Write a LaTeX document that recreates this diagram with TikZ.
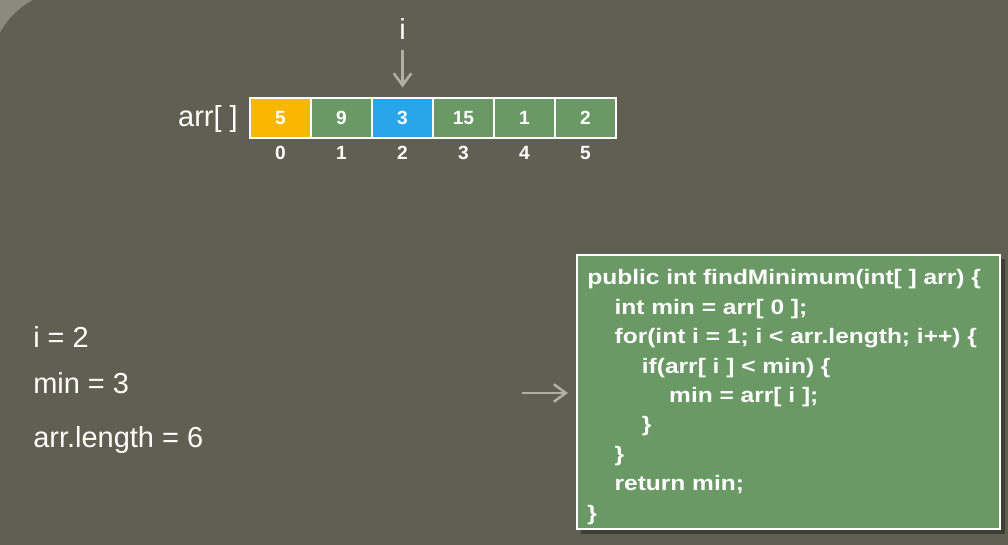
\documentclass[tikz,border=0pt]{standalone}
\usepackage{fontspec}
\setmainfont{Liberation Sans}
\usetikzlibrary{arrows.meta,positioning}
\definecolor{slidebg}{RGB}{95,96,81}
\definecolor{slideedge}{RGB}{138,139,124}
\definecolor{cellgreen}{RGB}{106,153,101}
\definecolor{cellorange}{RGB}{250,183,0}
\definecolor{cellblue}{RGB}{40,165,235}
\definecolor{arrowgrey}{RGB}{176,176,160}

\begin{document}
\begin{tikzpicture}[x=0.25mm, y=-0.25mm,
  cell/.style={rectangle, draw=white, line width=2pt, minimum width=15.25mm, minimum height=10mm, inner sep=0pt, text=white, font=\bfseries\fontsize{13.6}{15}\selectfont},
  idx/.style={anchor=base, inner sep=0pt, text=white, font=\bfseries\fontsize{13.6}{15}\selectfont},
  varlabel/.style={anchor=base west, inner sep=0pt, text=white, font=\fontsize{20.6}{24}\selectfont},
  codebox/.style={rectangle, draw=white, line width=1.5pt, fill=cellgreen, minimum width=105.75mm, minimum height=68.5mm},
  codeline/.style={anchor=base west, inner sep=0pt, text=white, xscale=1.17, transform shape, font=\bfseries\fontsize{14.9}{18}\selectfont},
  arrow/.style={-{Straight Barb[length=3mm,width=4.4mm]}, line width=1.8pt, draw=arrowgrey}
]
\useasboundingbox (0,0) rectangle (1008,545);
% slide background
\fill[slideedge] (0,0) rectangle (1008,545);
\fill[slidebg, rounded corners=20mm] (-9.4,-9.4) rectangle (1200,700);

% array
\node[varlabel, anchor=base east] (arrname) at (238,127) {arr[ ]};
\foreach \val/\col [count=\k from 0] in {5/cellorange, 9/cellgreen, 3/cellblue, 15/cellgreen, 1/cellgreen, 2/cellgreen} {
  \node[cell, fill=\col] (c\k) at (280.5+61*\k,118) {\val};
  \node[idx] (n\k) at (280.5+61*\k,160) {\k};
}
\node[varlabel, anchor=base] (iptr) at (402.5,40) {i};
\draw[arrow, shorten <=2.5mm, shorten >=2.3mm] (iptr.south) -- (c2.north);

% variables
\node[varlabel] (ival) at (33,348) {i = 2};
\node[varlabel] (minval) at (33,393) {min = 3};
\node[varlabel] (lenval) at (33,447) {arr.length = 6};

% code
\fill[black, opacity=0.35] (581,259) rectangle (1005,534);
\node[codebox] (code) at (788.5,392) {};
\foreach \lvl/\txt [count=\n from 0] in {0/{public int findMinimum(int[ ] arr) \{}, 1/{int min = arr[ 0 ];}, 1/{for(int i = 1; i < arr.length; i++) \{}, 2/{if(arr[ i ] < min) \{}, 3/{min = arr[ i ];}, 2/{\}}, 1/{\}}, 1/{return min;}, 0/{\}}} {
  \node[codeline] (ln\n) at (587+27.3*\lvl,285+29.4*\n) {\txt};
}
\coordinate (astart) at (522,393);
\draw[arrow, shorten >=2mm] (astart) -- (astart -| code.west);
\end{tikzpicture}
\end{document}
